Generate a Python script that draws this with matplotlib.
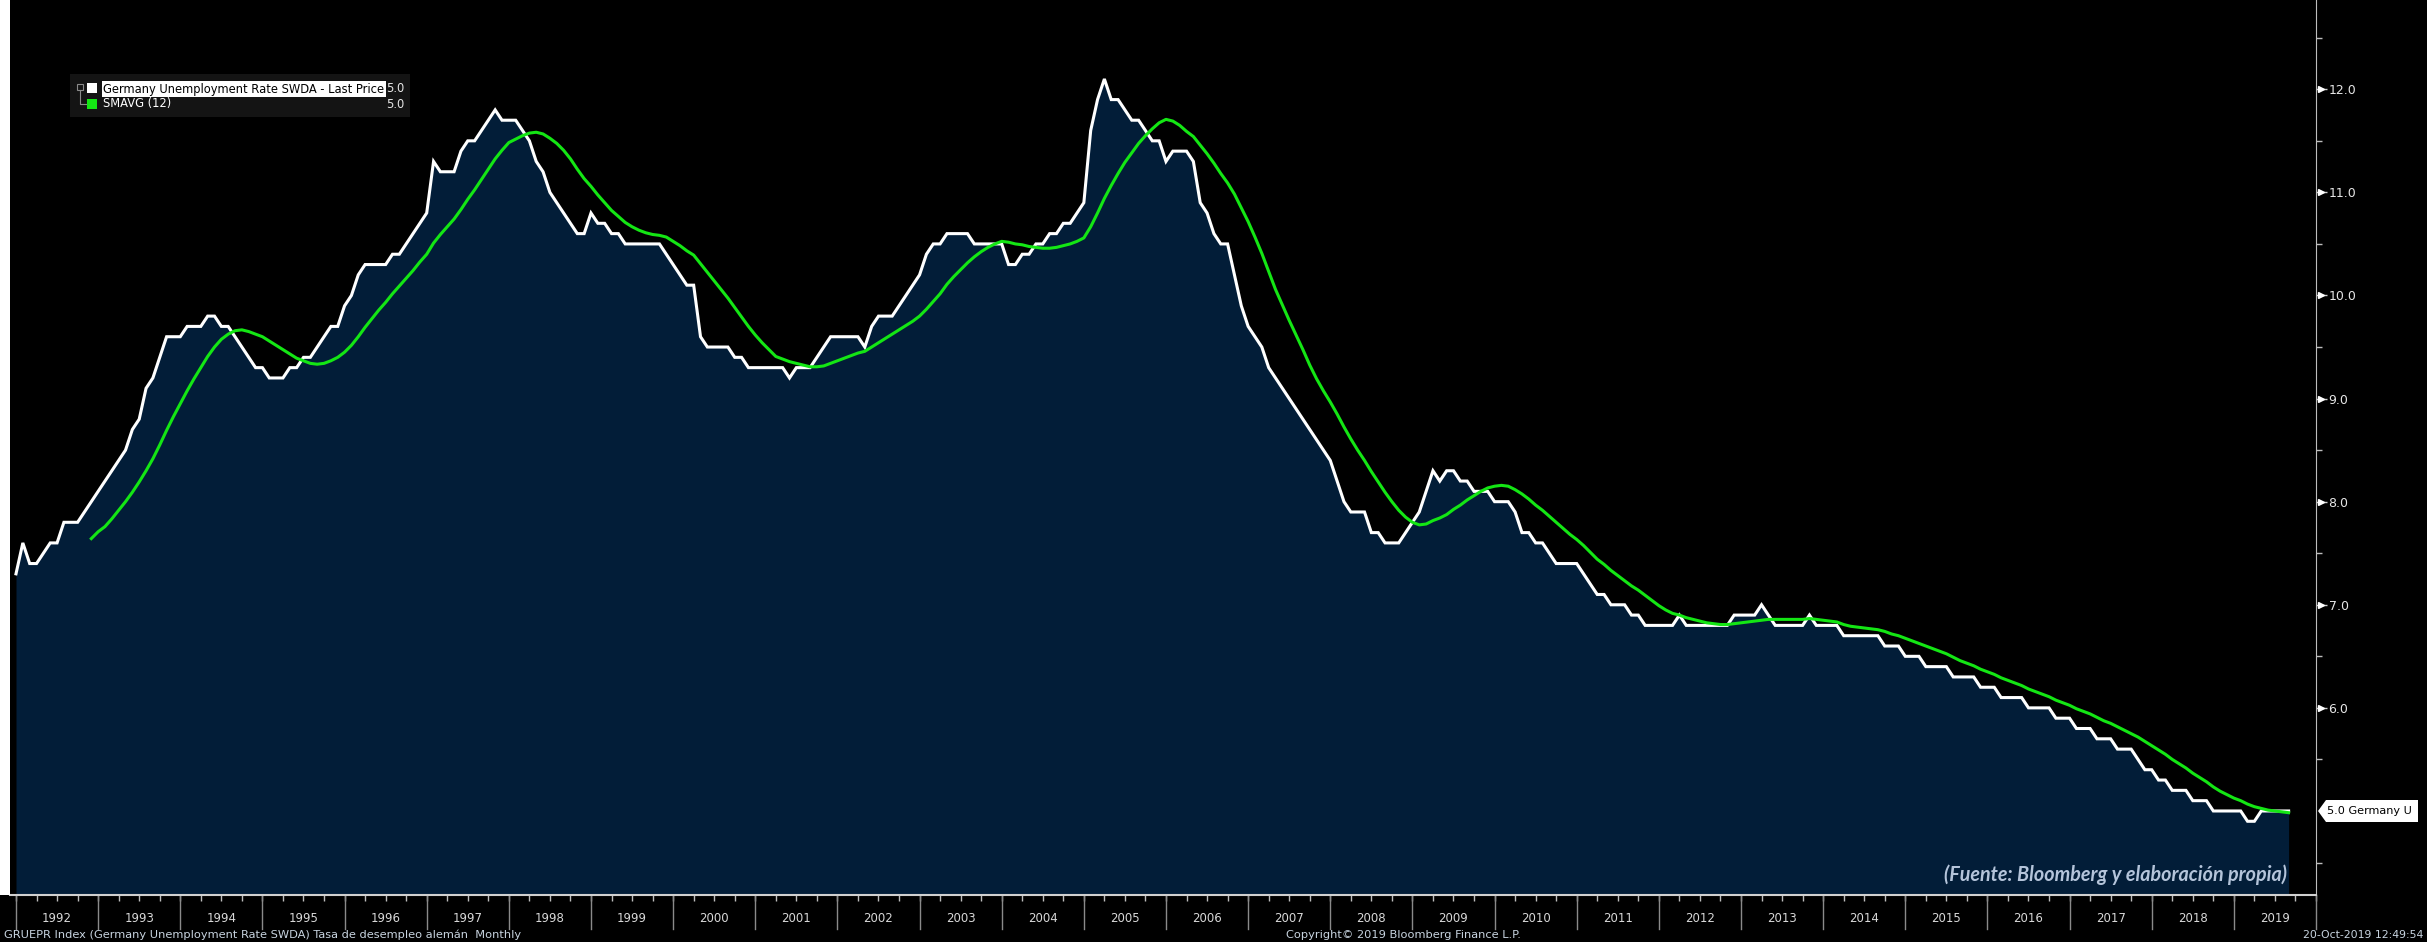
import numpy as np
import pandas as pd
import matplotlib
matplotlib.use('Agg')
import matplotlib.pyplot as plt
from matplotlib import font_manager
from matplotlib.patches import Rectangle, Polygon
from matplotlib.lines import Line2D

# Germany unemployment rate SWDA, monthly, Jan 1992 - Sep 2019
years = list(range(1992, 2020))
rate = [
    7.3, 7.6, 7.4, 7.4, 7.5, 7.6, 7.6, 7.8, 7.8, 7.8, 7.9, 8.0,            # 1992
    8.1, 8.2, 8.3, 8.4, 8.5, 8.7, 8.8, 9.1, 9.2, 9.4, 9.6, 9.6,            # 1993
    9.6, 9.7, 9.7, 9.7, 9.8, 9.8, 9.7, 9.7, 9.6, 9.5, 9.4, 9.3,            # 1994
    9.3, 9.2, 9.2, 9.2, 9.3, 9.3, 9.4, 9.4, 9.5, 9.6, 9.7, 9.7,            # 1995
    9.9, 10.0, 10.2, 10.3, 10.3, 10.3, 10.3, 10.4, 10.4, 10.5, 10.6, 10.7, # 1996
    10.8, 11.3, 11.2, 11.2, 11.2, 11.4, 11.5, 11.5, 11.6, 11.7, 11.8, 11.7,  # 1997
    11.7, 11.7, 11.6, 11.5, 11.3, 11.2, 11.0, 10.9, 10.8, 10.7, 10.6, 10.6,  # 1998
    10.8, 10.7, 10.7, 10.6, 10.6, 10.5, 10.5, 10.5, 10.5, 10.5, 10.5, 10.4,  # 1999
    10.3, 10.2, 10.1, 10.1, 9.6, 9.5, 9.5, 9.5, 9.5, 9.4, 9.4, 9.3,          # 2000
    9.3, 9.3, 9.3, 9.3, 9.3, 9.2, 9.3, 9.3, 9.3, 9.4, 9.5, 9.6,              # 2001
    9.6, 9.6, 9.6, 9.6, 9.5, 9.7, 9.8, 9.8, 9.8, 9.9, 10.0, 10.1,            # 2002
    10.2, 10.4, 10.5, 10.5, 10.6, 10.6, 10.6, 10.6, 10.5, 10.5, 10.5, 10.5,  # 2003
    10.5, 10.3, 10.3, 10.4, 10.4, 10.5, 10.5, 10.6, 10.6, 10.7, 10.7, 10.8,  # 2004
    10.9, 11.6, 11.9, 12.1, 11.9, 11.9, 11.8, 11.7, 11.7, 11.6, 11.5, 11.5,  # 2005
    11.3, 11.4, 11.4, 11.4, 11.3, 10.9, 10.8, 10.6, 10.5, 10.5, 10.2, 9.9,   # 2006
    9.7, 9.6, 9.5, 9.3, 9.2, 9.1, 9.0, 8.9, 8.8, 8.7, 8.6, 8.5,              # 2007
    8.4, 8.2, 8.0, 7.9, 7.9, 7.9, 7.7, 7.7, 7.6, 7.6, 7.6, 7.7,              # 2008
    7.8, 7.9, 8.1, 8.3, 8.2, 8.3, 8.3, 8.2, 8.2, 8.1, 8.1, 8.1,              # 2009
    8.0, 8.0, 8.0, 7.9, 7.7, 7.7, 7.6, 7.6, 7.5, 7.4, 7.4, 7.4,              # 2010
    7.4, 7.3, 7.2, 7.1, 7.1, 7.0, 7.0, 7.0, 6.9, 6.9, 6.8, 6.8,              # 2011
    6.8, 6.8, 6.8, 6.9, 6.8, 6.8, 6.8, 6.8, 6.8, 6.8, 6.8, 6.9,              # 2012
    6.9, 6.9, 6.9, 7.0, 6.9, 6.8, 6.8, 6.8, 6.8, 6.8, 6.9, 6.8,              # 2013
    6.8, 6.8, 6.8, 6.7, 6.7, 6.7, 6.7, 6.7, 6.7, 6.6, 6.6, 6.6,              # 2014
    6.5, 6.5, 6.5, 6.4, 6.4, 6.4, 6.4, 6.3, 6.3, 6.3, 6.3, 6.2,              # 2015
    6.2, 6.2, 6.1, 6.1, 6.1, 6.1, 6.0, 6.0, 6.0, 6.0, 5.9, 5.9,              # 2016
    5.9, 5.8, 5.8, 5.8, 5.7, 5.7, 5.7, 5.6, 5.6, 5.6, 5.5, 5.4,              # 2017
    5.4, 5.3, 5.3, 5.2, 5.2, 5.2, 5.1, 5.1, 5.1, 5.0, 5.0, 5.0,              # 2018
    5.0, 5.0, 4.9, 4.9, 5.0, 5.0, 5.0, 5.0, 5.0,                            # 2019
]
y_ticks = [6, 7, 8, 9, 10, 11, 12]
last_value = 5.0

months = np.arange(len(rate))
smavg = pd.Series(rate).rolling(12).mean()   # SMAVG (12)

installed = {f.name for f in font_manager.fontManager.ttflist}
narrow = 'Liberation Sans Narrow' if 'Liberation Sans Narrow' in installed else 'DejaVu Sans'
bold_it = 'Lato' if 'Lato' in installed else 'DejaVu Sans'

W, H = 2427, 942
fig = plt.figure(figsize=(W / 100, H / 100), dpi=100, facecolor='black')


def fx(px):
    return px / W


def fy(py):
    return 1 - py / H


# plot area in pixels
left, right, top, bottom = 10, 2316, 0, 895
ax = fig.add_axes([fx(left), fy(bottom), (right - left) / W, (bottom - top) / H])
ax.set_facecolor('black')
ymin, ymax = 4.185, 12.866
ax.set_xlim(-0.875, 335.5)
ax.set_ylim(ymin, ymax)

fig.add_artist(Rectangle((0, fy(bottom)), fx(left), 1 - fy(bottom), transform=fig.transFigure,
                         fc='white', ec='none'))

ax.fill_between(months, rate, ymin, color='#021d38', lw=0)
ax.plot(months, rate, color='white', lw=2.2, solid_joinstyle='miter')
ax.plot(months, smavg, color='#14e614', lw=2.2)

for s in ['left', 'top']:
    ax.spines[s].set_visible(False)
ax.spines['right'].set_color('#bdbdbd')
ax.spines['bottom'].set_color('#d0d0d0')
ax.spines['bottom'].set_linewidth(1.5)

# right axis
ax.yaxis.tick_right()
ax.set_yticks(y_ticks)
ax.set_yticklabels([f'{v:.1f}' for v in y_ticks])
ax.set_yticks(np.arange(4.5, 13, 1.0), minor=True)
ax.tick_params(axis='y', which='major', length=8, width=1, color='#d0d0d0', pad=1,
               labelsize=9, labelcolor='#e6e6e6')
ax.tick_params(axis='y', which='minor', length=4, width=1, color='#bdbdbd')
ax.plot([1.0022] * len(y_ticks), y_ticks, ls='none', marker='>', ms=4, color='white',
        transform=ax.get_yaxis_transform(), clip_on=False)

# bottom axis: quarterly ticks, year separators and labels
ax.set_xticks(np.arange(0, 337, 3))
ax.set_xticklabels([])
ax.tick_params(axis='x', length=4, width=1, color='#bdbdbd')
xt = ax.get_xaxis_transform()
for k in range(len(years) + 1):
    ax.plot([12 * k, 12 * k], [0, -34 / 895], color='#8a8a8a', lw=1, transform=xt, clip_on=False)
for i, yr in enumerate(years):
    ax.text(12 * i + 6, -23 / 895, str(yr), transform=xt, ha='center', va='center',
            color='#d8d8d8', fontsize=8.5, family=narrow)

# legend box
fig.add_artist(Rectangle((fx(70), fy(117)), fx(410 - 70), (117 - 74) / H, transform=fig.transFigure,
                         fc='#141414', ec='none'))
fig.add_artist(Rectangle((fx(87), fy(93)), fx(10), 10 / H, transform=fig.transFigure,
                         fc='white', ec='none'))
fig.add_artist(Rectangle((fx(87), fy(109)), fx(10), 10 / H, transform=fig.transFigure,
                         fc='#14e614', ec='none'))
fig.add_artist(Rectangle((fx(77), fy(90)), fx(6), 6 / H, transform=fig.transFigure,
                         fc='none', ec='#8a8a8a', lw=0.8))
fig.add_artist(Line2D([fx(80), fx(80), fx(86)], [fy(90), fy(104), fy(104)],
                      transform=fig.transFigure, color='#8a8a8a', lw=0.8))
fig.text(fx(103), fy(89), 'Germany Unemployment Rate SWDA - Last Price', color='black',
         fontsize=8.3, va='center', ha='left', bbox=dict(fc='white', ec='none', pad=1))
fig.text(fx(103), fy(104), 'SMAVG (12)', color='white', fontsize=8.3, va='center', ha='left')
fig.text(fx(404), fy(89), f'{last_value:.1f}', color='#e6e6e6', fontsize=8.3, va='center', ha='right')
fig.text(fx(404), fy(104), f'{last_value:.1f}', color='#e6e6e6', fontsize=8.3, va='center', ha='right')

# last value tag on the right axis
fig.add_artist(Polygon([(fx(2318), fy(811)), (fx(2326), fy(800)), (fx(2418), fy(800)),
                        (fx(2418), fy(822)), (fx(2326), fy(822))], closed=True,
                       transform=fig.transFigure, fc='white', ec='none'))
fig.text(fx(2327), fy(811), f'{last_value:.1f} Germany U', color='black', fontsize=8.1,
         va='center', ha='left')

# source note and footer
fig.text(fx(2287), fy(875), '(Fuente: Bloomberg y elaboración propia)', color='#b4c4da',
         fontsize=14.2, fontstyle='italic', fontweight='bold', family=bold_it,
         ha='right', va='center')
fig.text(fx(4), fy(935), 'GRUEPR Index (Germany Unemployment Rate SWDA) Tasa de desempleo alemán  Monthly',
         color='#c8d4e0', fontsize=8.2, family=narrow, ha='left', va='center')
fig.text(fx(1403), fy(935), 'Copyright© 2019 Bloomberg Finance L.P.', color='#c8d4e0',
         fontsize=8.2, family=narrow, ha='center', va='center')
fig.text(fx(2423), fy(935), '20-Oct-2019 12:49:54', color='#c8d4e0', fontsize=7.8,
         family=narrow, ha='right', va='center')

fig.savefig('out.png', dpi=100, facecolor='black')
